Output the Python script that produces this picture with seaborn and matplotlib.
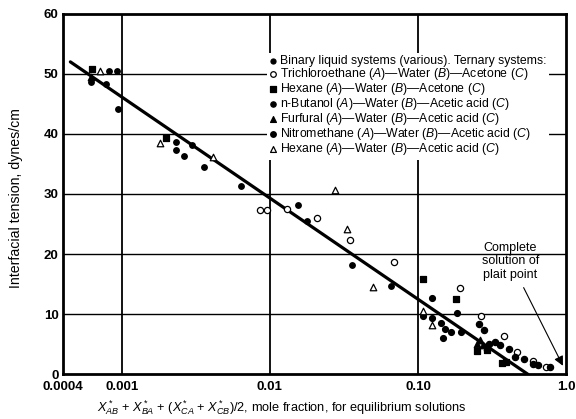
import matplotlib
matplotlib.use("Agg")
import matplotlib.pyplot as plt
import seaborn as sns
import numpy as np
import pandas as pd
from matplotlib.ticker import FixedLocator, NullLocator, FixedFormatter

# ---- data: (mole-fraction sum, interfacial tension in dynes/cm) per system ----
binary_x = [0.00082, 0.00093, 0.000618, 0.00078, 0.00094, 0.00232, 0.00232, 0.00262,
            0.00296, 0.00358, 0.00637, 0.0155, 0.0177, 0.0358, 0.0658]
binary_y = [50.4, 50.4, 48.7, 48.3, 44.1, 38.6, 37.3, 36.4,
            38.2, 34.5, 31.4, 28.2, 25.5, 18.1, 14.7]

trichloro_x = [0.00855, 0.0096, 0.0131, 0.0209, 0.0346, 0.0689, 0.192, 0.267,
               0.383, 0.469, 0.60, 0.73]
trichloro_y = [27.4, 27.4, 27.5, 26.0, 22.4, 18.6, 14.3, 9.7,
               6.3, 3.7, 2.2, 1.2]

hex_acetone_x = [0.00063, 0.00198, 0.1076, 0.180, 0.249, 0.29, 0.37, 0.39]
hex_acetone_y = [50.8, 39.3, 15.9, 12.5, 3.9, 4.0, 1.8, 2.1]

butanol_x = [0.1245, 0.182, 0.1076, 0.1245, 0.143, 0.151, 0.168, 0.147, 0.195]
butanol_y = [12.6, 10.2, 9.7, 9.4, 8.5, 7.5, 7.0, 6.0, 7.1]

furfural_x = [0.00062, 0.25, 0.262, 0.275, 0.294]
furfural_y = [49.5, 5.1, 5.7, 4.9, 4.5]

nitro_x = [0.257, 0.28, 0.30, 0.331, 0.358, 0.414, 0.452, 0.515, 0.60, 0.65, 0.78]
nitro_y = [8.3, 7.3, 5.1, 5.4, 4.9, 4.2, 2.9, 2.5, 1.7, 1.6, 1.2]

hex_acetic_x = [0.00071, 0.0018, 0.00412, 0.0275, 0.033, 0.0494, 0.1076, 0.125]
hex_acetic_y = [50.5, 38.5, 36.1, 30.7, 24.1, 14.5, 10.6, 8.2]

# correlating line
line_x = [0.00045, 0.55]
line_y = [52.0, 0.0]

plait_x, plait_y = 0.95, 1.4

x_ticks = [0.0004, 0.001, 0.01, 0.1, 1.0]
x_ticklabels = ["0.0004", "0.001", "0.01", "0.10", "1.0"]
y_ticks = [0, 10, 20, 30, 40, 50, 60]

series = [
    ("Binary liquid systems (various). Ternary systems:", binary_x, binary_y, "o", "black", 16),
    (r"Trichloroethane ($\mathit{A}$)—Water ($\mathit{B}$)—Acetone ($\mathit{C}$)",
     trichloro_x, trichloro_y, "o", "white", 20),
    (r"Hexane ($\mathit{A}$)—Water ($\mathit{B}$)—Acetone ($\mathit{C}$)",
     hex_acetone_x, hex_acetone_y, "s", "black", 24),
    (r"n-Butanol ($\mathit{A}$)—Water ($\mathit{B}$)—Acetic acid ($\mathit{C}$)",
     butanol_x, butanol_y, "o", "black", 18),
    (r"Furfural ($\mathit{A}$)—Water ($\mathit{B}$)—Acetic acid ($\mathit{C}$)",
     furfural_x, furfural_y, "^", "black", 22),
    (r"Nitromethane ($\mathit{A}$)—Water ($\mathit{B}$)—Acetic acid ($\mathit{C}$)",
     nitro_x, nitro_y, "o", "black", 20),
    (r"Hexane ($\mathit{A}$)—Water ($\mathit{B}$)—Acetic acid ($\mathit{C}$)",
     hex_acetic_x, hex_acetic_y, "^", "white", 22),
]

sns.set_theme(style="white")
plt.rcParams["font.family"] = ["Liberation Sans", "DejaVu Sans"]
plt.rcParams["mathtext.fontset"] = "custom"
plt.rcParams["mathtext.rm"] = "Liberation Sans"
plt.rcParams["mathtext.it"] = "Liberation Sans:italic"
plt.rcParams["mathtext.bf"] = "Liberation Sans:bold"

fig = plt.figure(figsize=(5.76, 4.19), dpi=100)
ax = fig.add_axes([0.109, 0.107, 0.874, 0.860])

for label, xs, ys, m, fc, s in series:
    df = pd.DataFrame({"x": xs, "y": ys})
    sns.scatterplot(data=df, x="x", y="y", marker=m, s=s, color=fc,
                    edgecolor="black", linewidth=0.9, label=label, ax=ax, zorder=3)

sns.lineplot(x=line_x, y=line_y, color="black", linewidth=2.3, ax=ax, zorder=2)

ax.set_xscale("log")
ax.set_xlim(0.0004, 1.0)
ax.set_ylim(0, 60)
ax.xaxis.set_major_locator(FixedLocator(x_ticks))
ax.xaxis.set_major_formatter(FixedFormatter(x_ticklabels))
ax.xaxis.set_minor_locator(NullLocator())
ax.set_yticks(y_ticks)

ax.grid(False)
for xv in x_ticks[1:-1]:
    ax.axvline(xv, color="black", linewidth=1.3, zorder=1)
for yv in y_ticks[1:-1]:
    ax.axhline(yv, color="black", linewidth=1.0, zorder=1)

for sp in ax.spines.values():
    sp.set_color("black")
    sp.set_linewidth(2.0)

ax.tick_params(axis="both", length=0, labelsize=9.5, colors="black")
ax.tick_params(axis="x", pad=5)
ax.tick_params(axis="y", pad=3)
for t in ax.get_xticklabels() + ax.get_yticklabels():
    t.set_fontweight("bold")

ax.set_ylabel("Interfacial tension, dynes/cm", fontsize=10.2, color="black")
ax.yaxis.set_label_coords(-0.08, 0.49)
ax.set_xlabel(r"$X^*_{AB}$ + $X^*_{BA}$ + ($X^*_{CA}$ + $X^*_{CB}$)/2, mole fraction, for equilibrium solutions",
              fontsize=9.2, color="black")
ax.xaxis.set_label_coords(0.435, -0.068)

leg = ax.legend(loc="upper left", bbox_to_anchor=(0.405, 0.892), frameon=True,
                fontsize=8.8, handlelength=0.6, handletextpad=0.3,
                labelspacing=-0.08, borderaxespad=0, borderpad=0.2, markerscale=0.9)
leg.get_frame().set_facecolor("white")
leg.get_frame().set_edgecolor("none")
leg.get_frame().set_alpha(1.0)
leg.set_zorder(4)
for t in leg.get_texts():
    t.set_color("black")

ax.annotate("Complete\nsolution of\nplait point", xy=(plait_x, plait_y),
            xytext=(0.42, 18.8), ha="center", va="center", fontsize=9.0,
            color="black", linespacing=1.15,
            arrowprops=dict(arrowstyle="-|>", color="black", linewidth=0.8,
                            mutation_scale=14, shrinkA=3, shrinkB=0))

fig.savefig("out.png", dpi=100, facecolor="white")
